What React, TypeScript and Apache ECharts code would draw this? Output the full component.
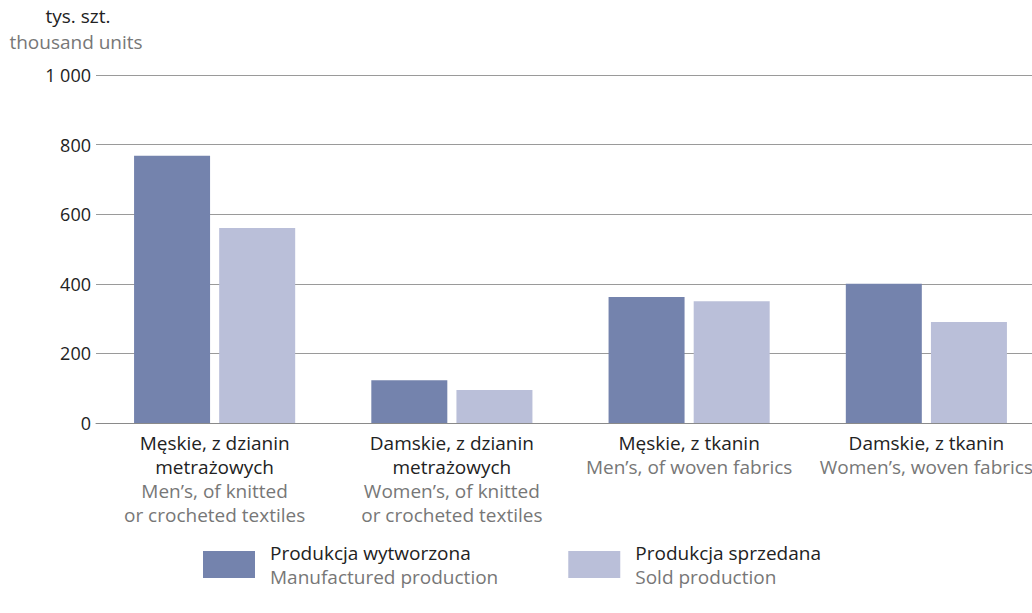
import React, { useEffect, useRef } from "react";
import * as echarts from "echarts";

const categoriesPl = ["Męskie, z dzianin\nmetrażowych", "Damskie, z dzianin\nmetrażowych", "Męskie, z tkanin", "Damskie, z tkanin"];
const categoriesEn = ["Men’s, of knitted\nor crocheted textiles", "Women’s, of knitted\nor crocheted textiles", "Men’s, of woven fabrics", "Women’s, woven fabrics"];
const manufactured = [768, 123, 362, 400];
const sold = [560, 95, 350, 290];
const seriesNamesPl = ["Produkcja wytworzona", "Produkcja sprzedana"];
const seriesNamesEn = ["Manufactured production", "Sold production"];
const yTicks = [0, 200, 400, 600, 800, 1000];

const FONT = "Open Sans";
const FS = 19;

export default function App() {
  const ref = useRef<HTMLDivElement>(null);
  useEffect(() => {
    const chart = echarts.init(ref.current!, undefined, { renderer: "svg" });
    const cats = categoriesPl.map((_, i) => String(i));
    chart.setOption({
      animation: false,
      textStyle: { fontFamily: FONT },
      grid: { left: 96, top: 75, right: 0, bottom: 190, containLabel: false },
      graphic: [
        { type: "text", x: 78, y: 16, style: { text: "tys. szt.", font: `${FS}px '${FONT}'`, fill: "#222", textAlign: "center", textVerticalAlign: "middle" } },
        { type: "text", x: 76, y: 42, style: { text: "thousand units", font: `${FS}px '${FONT}'`, fill: "#777", textAlign: "center", textVerticalAlign: "middle" } },
      ],
      legend: {
        left: 198,
        top: 538,
        itemWidth: 52,
        itemHeight: 27,
        itemGap: 70,
        icon: "rect",
        data: seriesNamesPl,
        formatter: (name: string) => {
          const i = seriesNamesPl.indexOf(name);
          return `{a|${name}}\n{b|${seriesNamesEn[i]}}`;
        },
        textStyle: {
          padding: [0, 0, 0, 10],
          rich: {
            a: { fontFamily: FONT, fontSize: FS, color: "#222", lineHeight: 24 },
            b: { fontFamily: FONT, fontSize: FS, color: "#777", lineHeight: 24 },
          },
        },
      },
      xAxis: {
        type: "category",
        data: cats,
        axisLine: { show: true, lineStyle: { color: "#8a8a8a", width: 1 } },
        axisTick: { show: false },
        axisLabel: {
          margin: 8,
          interval: 0,
          formatter: (v: string) => {
            const i = Number(v);
            const pl = categoriesPl[i].split("\n").map((s) => `{a|${s}}`).join("\n");
            const en = categoriesEn[i].split("\n").map((s) => `{b|${s}}`).join("\n");
            return pl + "\n" + en;
          },
          rich: {
            a: { fontFamily: FONT, fontSize: FS, color: "#222", lineHeight: 24, align: "center" },
            b: { fontFamily: FONT, fontSize: FS, color: "#777", lineHeight: 24, align: "center" },
          },
        },
      },
      yAxis: {
        type: "value",
        min: 0,
        max: 1000,
        interval: 200,
        axisLine: { show: false },
        axisTick: { show: false },
        splitLine: { lineStyle: { color: "#9a9a9a", width: 1 } },
        axisLabel: {
          margin: 5,
          fontFamily: FONT,
          fontSize: 18,
          color: "#222",
          formatter: (v: number) => (yTicks.includes(v) ? String(v).replace(/\B(?=(\d{3})+(?!\d))/g, " ") : ""),
        },
      },
      series: [
        { name: seriesNamesPl[0], type: "bar", data: manufactured, barWidth: 76, barGap: "12%", itemStyle: { color: "#7483ad" } },
        { name: seriesNamesPl[1], type: "bar", data: sold, barWidth: 76, itemStyle: { color: "#babfd9" } },
      ],
    });
    return () => chart.dispose();
  }, []);
  return (
    <div style={{ position: "absolute", left: 0, top: 0, width: 1032, height: 613, overflow: "hidden" }}>
      <div ref={ref} style={{ width: 1045, height: 613 }} />
    </div>
  );
}
